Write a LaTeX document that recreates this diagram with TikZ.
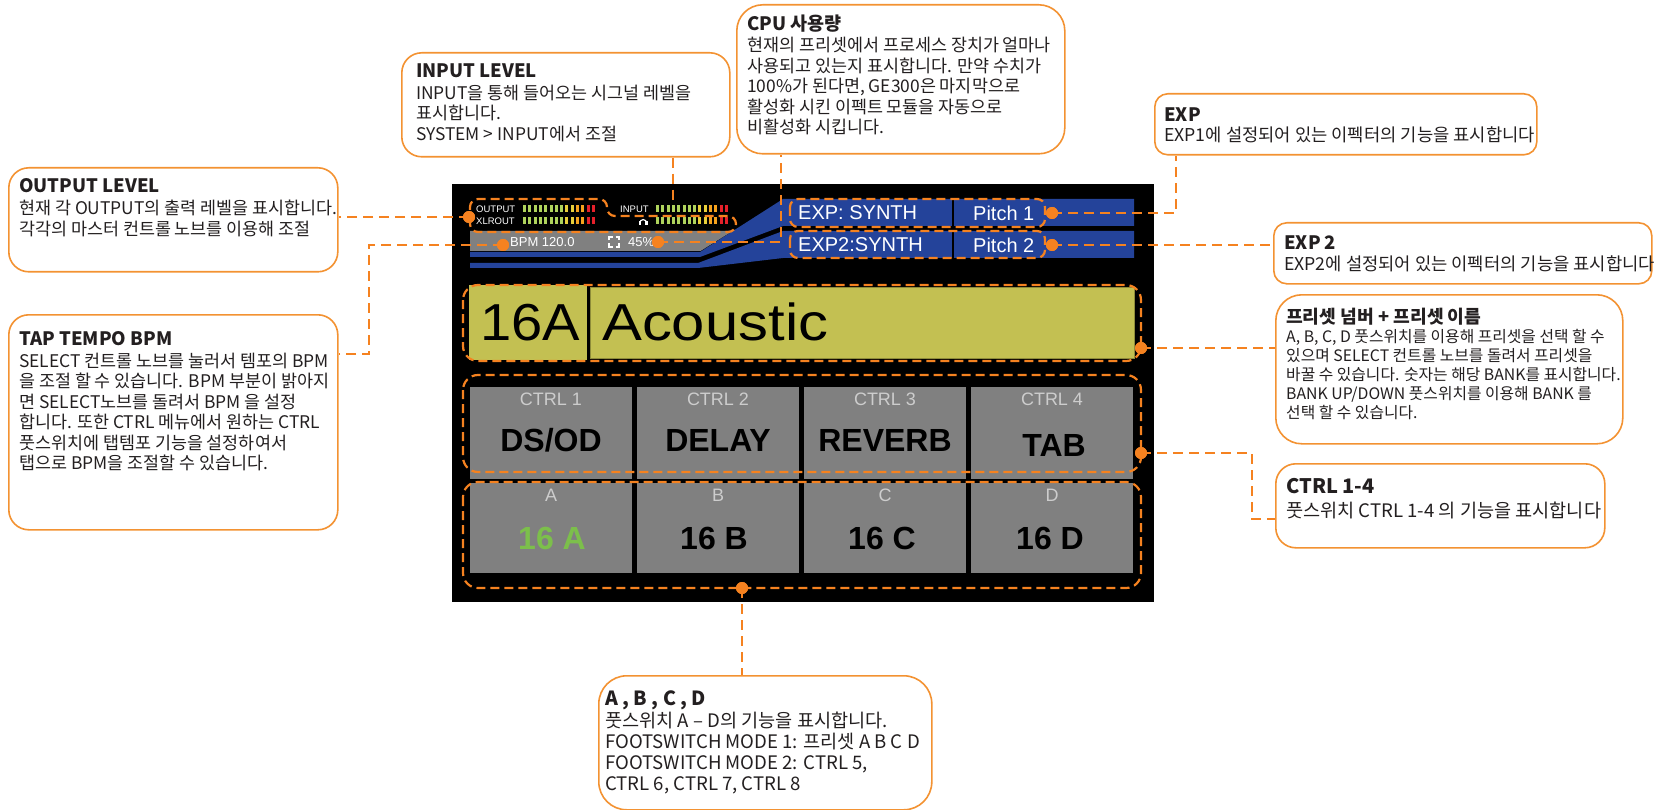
\documentclass[tikz,border=0pt]{standalone}
\usepackage{graphicx}
\usepackage{fontspec}
\setmainfont{Liberation Sans}
\newfontfamily\kr{Noto Sans CJK KR}
\newfontfamily\scr{Liberation Sans}
\usetikzlibrary{calc}

\definecolor{org}{HTML}{F58220}
\definecolor{borg}{HTML}{F39232}
\definecolor{ink}{HTML}{231F20}
\definecolor{scrblue}{HTML}{24439A}
\definecolor{cellgray}{HTML}{808080}
\definecolor{lblgray}{HTML}{CDCDCD}
\definecolor{olive}{HTML}{C3C052}
\definecolor{oliveedge}{HTML}{8E8C3A}
\definecolor{mgreen}{HTML}{AFD35C}
\definecolor{myellow}{HTML}{E8CF3A}
\definecolor{morange}{HTML}{F6A21D}
\definecolor{mred}{HTML}{E5202A}
\definecolor{pgreen}{HTML}{7CBF4B}

\newcommand\meterrow[2]{%
  \foreach \c [count=\i from 0] in {mgreen,mgreen,mgreen,mgreen,mgreen,mgreen,mgreen,mgreen,myellow,myellow,morange,morange,mred,mred}{%
    \fill[\c] ({#1+\i*5.3},{#2-3.5}) rectangle ++(3,7);}}
\newcommand\tlines[1]{\vtop{\lineskiplimit=-1000pt\lineskip=0pt\halign{##\hfil\cr#1\crcr}}}

\begin{document}
\begin{tikzpicture}[x=1pt,y=-1pt,
  callout/.style={draw=borg, line width=1.6pt, fill=white, rounded corners=20pt, inner sep=0pt, anchor=north west},
  ttl/.style={anchor=base west, inner sep=0pt, text=ink, font=\kr\bfseries\fontsize{18.5}{20}\selectfont},
  body/.style={anchor=base west, inner sep=0pt, text=ink, font=\kr\fontsize{17.4}{20.5}\selectfont},
  leader/.style={draw=org, line width=2.3pt, dash pattern=on 10pt off 6pt},
  hl/.style={draw=org, line width=2.2pt, dash pattern=on 9pt off 5pt, rounded corners=12pt},
  dot/.style={circle, fill=org, inner sep=0pt, minimum size=12pt},
  cell/.style={fill=cellgray, inner sep=0pt, anchor=north west, minimum width=162pt, minimum height=92pt},
  cellb/.style={fill=cellgray, inner sep=0pt, anchor=north west, minimum width=162pt, minimum height=90pt},
  clbl/.style={text=lblgray, inner sep=0pt, font=\scr\fontsize{18}{18}\selectfont},
  cval/.style={text=black, inner sep=0pt, font=\scr\bfseries\fontsize{32}{32}\selectfont},
  stxt/.style={text=white, inner sep=0pt, anchor=west, font=\scr\fontsize{20}{20}\selectfont},
  mtxt/.style={text=white, inner sep=0pt, anchor=west, font=\scr\fontsize{9.5}{10}\selectfont}
]
\useasboundingbox (0,0) rectangle (1656,810);
\fill[white] (0,0) rectangle (1656,810);

% ---------- screen ----------
\fill[black] (452,184) rectangle (1154,602);

% blue bands
\fill[scrblue] (470,252) -- (700,252) -- (783,199) -- (1134,199) -- (1134,226) -- (783,226) -- (700,257) -- (470,257) -- cycle;
\fill[scrblue] (470,263) -- (698,263) -- (783,231) -- (1134,231) -- (1134,258) -- (783,258) -- (698,268) -- (470,268) -- cycle;
\draw[black, line width=1.5pt] (953,199) -- (953,226) (953,231) -- (953,258);
% gray bpm bar
\fill[cellgray] (470,231) -- (732.5,231) -- (700.5,251) -- (470,251) -- cycle;

% meters
\node[mtxt] (lout) at (476,209) {OUTPUT};
\node[mtxt] (lxlr) at (476,221) {XLROUT};
\node[mtxt] (linp) at (620,209) {INPUT};
\meterrow{523}{209}
\meterrow{523}{221}
\meterrow{656}{209}
\meterrow{656}{221}
% headphone icon
\draw[white, line width=1.2pt] (639.8,223) arc[start angle=180, end angle=360, radius=3.4];
\fill[white] (638.8,221.5) rectangle (641.2,225.2);
\fill[white] (645.4,221.5) rectangle (647.8,225.2);

% BPM / CPU
\node[stxt, font=\scr\fontsize{13}{13}\selectfont] (bpm) at (510,242) {BPM 120.0};
\node[stxt, font=\scr\fontsize{13}{13}\selectfont] (cpu) at (628,242) {45\%};
\draw[white, line width=1.6pt]
  (609,240.5) -- (609,237) -- (612.5,237) (615.5,237) -- (619,237) -- (619,240.5)
  (619,243.5) -- (619,247) -- (615.5,247) (612.5,247) -- (609,247) -- (609,243.5);

% EXP bands text
\node[stxt] (exp1a) at (798,213) {EXP: SYNTH};
\node[stxt] (exp1b) at (973,213) {Pitch 1};
\node[stxt] (exp2a) at (798,245) {EXP2:SYNTH};
\node[stxt] (exp2b) at (973,245) {Pitch 2};

% preset
\node[fill=olive, anchor=north west, minimum width=118pt, minimum height=75pt, inner sep=0pt] (pnum) at (469,285) {};
\node[fill=olive, draw=oliveedge, line width=0.8pt, anchor=north west, minimum width=544pt, minimum height=71pt, inner sep=0pt] (pname) at (590,287) {};
\node[anchor=base west, inner sep=0pt, font=\scr\fontsize{52}{52}\selectfont] (tnum) at (480,340) {\scalebox{1.08}[1]{16A}};
\node[anchor=base west, inner sep=0pt, font=\scr\fontsize{52}{52}\selectfont] (tname) at (602,340) {\scalebox{1.15}[1]{Acoustic}};

% cells
\node[cell] (c1) at (470,387) {};
\node[cell] (c2) at (637,387) {};
\node[cell] (c3) at (804,387) {};
\node[cell] (c4) at (971,387) {};
\node[cellb] (f1) at (470,483) {};
\node[cellb] (f2) at (637,483) {};
\node[cellb] (f3) at (804,483) {};
\node[cellb] (f4) at (971,483) {};

\node[clbl] (l1) at (551,399) {CTRL 1};
\node[clbl] (l2) at (718,399) {CTRL 2};
\node[clbl] (l3) at (885,399) {CTRL 3};
\node[clbl] (l4) at (1052,399) {CTRL 4};
\node[cval] (v1) at (551,440) {DS/OD};
\node[cval] (v2) at (718,440) {DELAY};
\node[cval] (v3) at (885,440) {REVERB};
\node[cval] (v4) at (1054,445) {TAB};

\node[clbl] (k1) at (551,495) {A};
\node[clbl] (k2) at (718,495) {B};
\node[clbl] (k3) at (885,495) {C};
\node[clbl] (k4) at (1052,495) {D};
\node[cval, text=pgreen] (w1) at (552,538) {16 A};
\node[cval] (w2) at (714,538) {16 B};
\node[cval] (w3) at (882,538) {16 C};
\node[cval] (w4) at (1050,538) {16 D};

% highlight outlines
\draw[hl, rounded corners=8pt] (470,232) -- (470,199) -- (607,199) -- (607,216) -- (736,216) -- (736,232) -- cycle;
\draw[hl, rounded corners=8pt] (790,199) rectangle (1045,227);
\draw[hl, rounded corners=8pt] (790,231) rectangle (1045,258);
\draw[hl, rounded corners=15pt] (463,285) rectangle (1141,361);
\draw[hl, rounded corners=15pt] (463,375) rectangle (1141,472);
\draw[hl, rounded corners=15pt] (463,482) rectangle (1141,588);

% ---------- callout boxes ----------
\node[callout, minimum width=329pt, minimum height=104pt] (outbox) at (8,167) {};
\node[ttl] (outt) at (19,193) {OUTPUT LEVEL};
\node[body] (outb) at (19,215) {\tlines{현재 각 OUTPUT의 출력 레벨을 표시합니다.\cr 각각의 마스터 컨트롤 노브를 이용해 조절}};

\node[callout, minimum width=329pt, minimum height=215pt] (tapbox) at (8,314) {};
\node[ttl] (tapt) at (19,345) {TAP TEMPO BPM};
\node[body] (tapb) at (19,367) {\tlines{SELECT 컨트롤 노브를 눌러서 템포의 BPM\cr 을 조절 할 수 있습니다. BPM 부분이 밝아지\cr 면 SELECT노브를 돌려서 BPM 을 설정\cr 합니다. 또한 CTRL 메뉴에서 원하는 CTRL\cr 풋스위치에 탭템포 기능을 설정하여서\cr 탭으로 BPM을 조절할 수 있습니다.}};

\node[callout, minimum width=328pt, minimum height=104pt] (inbox) at (401,52) {};
\node[ttl] (int) at (416,78) {INPUT LEVEL};
\node[body] (inb) at (416,99.5) {\tlines{INPUT을 통해 들어오는 시그널 레벨을\cr 표시합니다.\cr SYSTEM > INPUT에서 조절}};

\node[callout, rounded corners=26pt, minimum width=328pt, minimum height=149pt] (cpubox) at (736,4) {};
\node[ttl] (cput) at (747,31) {CPU 사용량};
\node[body] (cpub) at (747,52) {\tlines{현재의 프리셋에서 프로세스 장치가 얼마나\cr 사용되고 있는지 표시합니다. 만약 수치가\cr 100\%가 된다면, GE300은 마지막으로\cr 활성화 시킨 이펙트 모듈을 자동으로\cr 비활성화 시킵니다.}};

\node[callout, rounded corners=13pt, minimum width=382pt, minimum height=61pt] (expbox) at (1154,93) {};
\node[ttl] (expt) at (1164,122) {EXP};
\node[body, font=\kr\fontsize{17.7}{20.5}\selectfont] (expb) at (1164,142) {EXP1에 설정되어 있는 이펙터의 기능을 표시합니다};

\node[callout, rounded corners=13pt, minimum width=378pt, minimum height=61pt] (exp2box) at (1273,222) {};
\node[ttl] (exp2t) at (1284,250) {EXP 2};
\node[body, font=\kr\fontsize{17.7}{20.5}\selectfont] (exp2b) at (1284,270) {EXP2에 설정되어 있는 이펙터의 기능을 표시합니다};

\node[callout, rounded corners=26pt, minimum width=347pt, minimum height=149pt] (prebox) at (1275,294) {};
\node[ttl, font=\kr\bfseries\fontsize{18.2}{19}\selectfont] (pret) at (1286,323) {프리셋 넘버 + 프리셋 이름};
\node[body, font=\kr\fontsize{15.8}{19.2}\selectfont] (preb) at (1286,342) {\tlines{A, B, C, D 풋스위치를 이용해 프리셋을 선택 할 수\cr 있으며 SELECT 컨트롤 노브를 돌려서 프리셋을\cr 바꿀 수 있습니다. 숫자는 해당 BANK를 표시합니다.\cr BANK UP/DOWN 풋스위치를 이용해 BANK 를\cr 선택 할 수 있습니다.}};

\node[callout, minimum width=329pt, minimum height=84pt] (ctrlbox) at (1275,463) {};
\node[ttl, font=\kr\bfseries\fontsize{20}{22}\selectfont] (ctrlt) at (1286,493) {CTRL 1-4};
\node[body, font=\kr\fontsize{18.6}{21}\selectfont] (ctrlb) at (1286,517) {풋스위치 CTRL 1-4 의 기능을 표시합니다};

\node[callout, rounded corners=28pt, minimum width=333pt, minimum height=134pt] (abcdbox) at (598,675) {};
\node[ttl, font=\kr\bfseries\fontsize{19.5}{21}\selectfont] (abcdt) at (605,705) {A , B , C , D};
\node[body, font=\kr\fontsize{18.6}{21}\selectfont] (abcdb) at (605,727) {\tlines{풋스위치 A – D의 기능을 표시합니다.\cr FOOTSWITCH MODE 1: 프리셋 A B C D\cr FOOTSWITCH MODE 2: CTRL 5,\cr CTRL 6, CTRL 7, CTRL 8}};

% ---------- connectors ----------
\node[dot] (d1) at (469,217) {};
\node[dot] (d2) at (503,245) {};
\node[dot] (d4) at (658,242) {};
\node[dot] (d5) at (1052,213) {};
\node[dot] (d6) at (1052,245) {};
\node[dot] (d7) at (1141,348) {};
\node[dot] (d8) at (1141,453) {};
\node[dot] (d9) at (742,588) {};
\coordinate (c2) at (369,354);
\coordinate (c3) at (673,203);
\coordinate (c4) at (781,242);
\coordinate (c5) at (1176,213);
\coordinate (c8) at (1252,519);

\draw[leader] (d1.center) -- (d1 -| outbox.east);
\draw[leader] (d2.center) -| (c2) -- (c2 -| tapbox.east);
\draw[leader] (inbox.south -| c3) -- (c3);
\draw[leader] (d4.center) -- (c4) -- (c4 |- cpubox.south);
\draw[leader] (d5.center) -- (c5) -- (c5 |- expbox.south);
\draw[leader] (d6.center) -- (d6 -| exp2box.west);
\draw[leader] (d7.center) -- (d7 -| prebox.west);
\draw[leader] (d8.center) -| (c8) -- (c8 -| ctrlbox.west);
\draw[leader] (d9.center) -- (d9 |- abcdbox.north);
\foreach \d in {d1,d2,d4,d5,d6,d7,d8,d9} \fill[org] (\d) circle (6pt);
\end{tikzpicture}
\end{document}
